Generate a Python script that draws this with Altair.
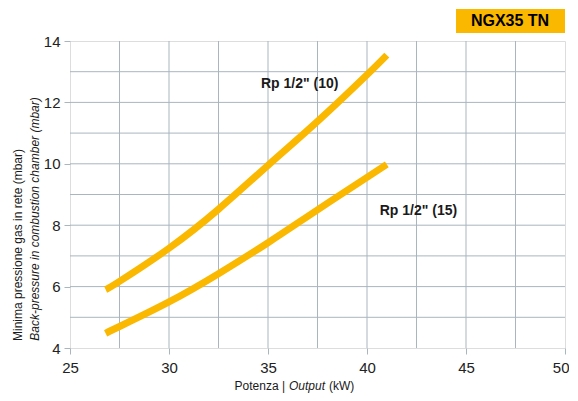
import altair as alt
import pandas as pd

# data
power = [26.8, 27.5, 30, 32.5, 35, 37.5, 40, 41]
p_10 = [5.9, 6.17, 7.25, 8.52, 9.95, 11.38, 12.9, 13.54]
p_15 = [4.48, 4.7, 5.5, 6.42, 7.43, 8.5, 9.56, 9.98]
series_names = ['Rp 1/2" (10)', 'Rp 1/2" (15)']
label_x = [36.6, 42.6]
label_y = [12.6, 8.45]
x_grid = [27.5, 30, 32.5, 35, 37.5, 40, 42.5, 45, 47.5]
y_grid = [5, 6, 7, 8, 9, 10, 11, 12, 13]
x_ticks = [25, 30, 35, 40, 45, 50]
y_ticks = [4, 6, 8, 10, 12, 14]
badge_text = ["NGX35 TN"]

rows = []
for name, vals in zip(series_names, [p_10, p_15]):
    for xv, yv in zip(power, vals):
        rows.append({"series": name, "x": xv, "y": yv})
df = pd.DataFrame(rows)
labels_df = pd.DataFrame({"label": series_names, "x": label_x, "y": label_y})

GRID = "#a9b6bf"
ORANGE = "#fbb800"
W, H = 495, 307
FONT = "Liberation Sans"

xs = alt.Scale(domain=[25, 50], nice=False)
ys = alt.Scale(domain=[4, 14], nice=False)

last_x = x_ticks[-1]
xgrid = alt.Chart(pd.DataFrame({"x": x_grid})).mark_rule(color=GRID, strokeWidth=1).encode(
    x=alt.X("x:Q", scale=xs, axis=alt.Axis(
        values=x_ticks, title=None, grid=False,
        labelFontSize=15, labelColor="#222",
        labelFont=FONT, labelPadding=6, labelFlush=False,
        labelAlign={"condition": {"test": f"datum.value === {last_x}", "value": "right"}, "value": "center"},
        labelOffset={"condition": {"test": f"datum.value === {last_x}", "value": 4}, "value": 0},
        tickColor=GRID, tickSize=6, domain=False))
)
ygrid = alt.Chart(pd.DataFrame({"y": y_grid})).mark_rule(color=GRID, strokeWidth=1).encode(
    y=alt.Y("y:Q", scale=ys, axis=alt.Axis(values=y_ticks, title=None, grid=False,
                                          labelFontSize=15, labelColor="#222",
                                          labelFont=FONT, labelPadding=4, labelFlush=False,
                                          tickColor=GRID, tickSize=6, domain=False))
)

lines = alt.Chart(df).mark_line(color=ORANGE, strokeWidth=7, interpolate="natural",
                                strokeCap="butt").encode(
    x=alt.X("x:Q", scale=xs),
    y=alt.Y("y:Q", scale=ys),
    detail="series:N",
)

labels = alt.Chart(labels_df).mark_text(font=FONT, fontWeight="bold",
                                        fontSize=14, color="#1a1a1a").encode(
    x=alt.X("x:Q", scale=xs), y=alt.Y("y:Q", scale=ys), text="label:N"
)

badge = alt.Chart(pd.DataFrame({"t": badge_text})).mark_rect(color=ORANGE).encode(
    x=alt.value(386), x2=alt.value(495), y=alt.value(-32), y2=alt.value(-8)
)
badge_txt = alt.Chart(pd.DataFrame({"t": badge_text})).mark_text(
    font=FONT, fontWeight="bold", fontSize=16, color="#000"
).encode(x=alt.value(440), y=alt.value(-20), text="t:N")

ytitle1 = alt.Chart(pd.DataFrame({"t": ["Minima pressione gas in rete (mbar)"]})).mark_text(
    font=FONT, fontSize=12, angle=270, color="#1a1a1a"
).encode(x=alt.value(-52), y=alt.value(204), text="t:N")
ytitle2 = alt.Chart(pd.DataFrame({"t": ["Back-pressure in combustion chamber (mbar)"]})).mark_text(
    font=FONT, fontSize=12, angle=270, fontStyle="italic", color="#1a1a1a"
).encode(x=alt.value(-35), y=alt.value(178), text="t:N")

XT_Y = 349
xt_a = alt.Chart(pd.DataFrame({"t": ["Potenza |"]})).mark_text(
    font=FONT, fontSize=12, align="right", baseline="alphabetic", color="#1a1a1a"
).encode(x=alt.value(215), y=alt.value(XT_Y), text="t:N")
xt_b = alt.Chart(pd.DataFrame({"t": ["Output"]})).mark_text(
    font=FONT, fontSize=12, fontStyle="italic", align="left", baseline="alphabetic", color="#1a1a1a"
).encode(x=alt.value(219), y=alt.value(XT_Y), text="t:N")
xt_c = alt.Chart(pd.DataFrame({"t": ["(kW)"]})).mark_text(
    font=FONT, fontSize=12, align="left", baseline="alphabetic", color="#1a1a1a"
).encode(x=alt.value(259), y=alt.value(XT_Y), text="t:N")

chart = alt.layer(
    xgrid, ygrid, lines, labels, badge, badge_txt, ytitle1, ytitle2, xt_a, xt_b, xt_c
).properties(
    width=W, height=H,
    autosize=alt.AutoSizeParams(type="none"),
    padding={"left": 62, "top": 33, "right": 4, "bottom": 45},
).configure_view(
    fill="#e7f4fc", stroke=GRID, strokeWidth=1
).configure(background="white")

chart.save("out.html", embed_options={"renderer": "svg", "actions": False})
